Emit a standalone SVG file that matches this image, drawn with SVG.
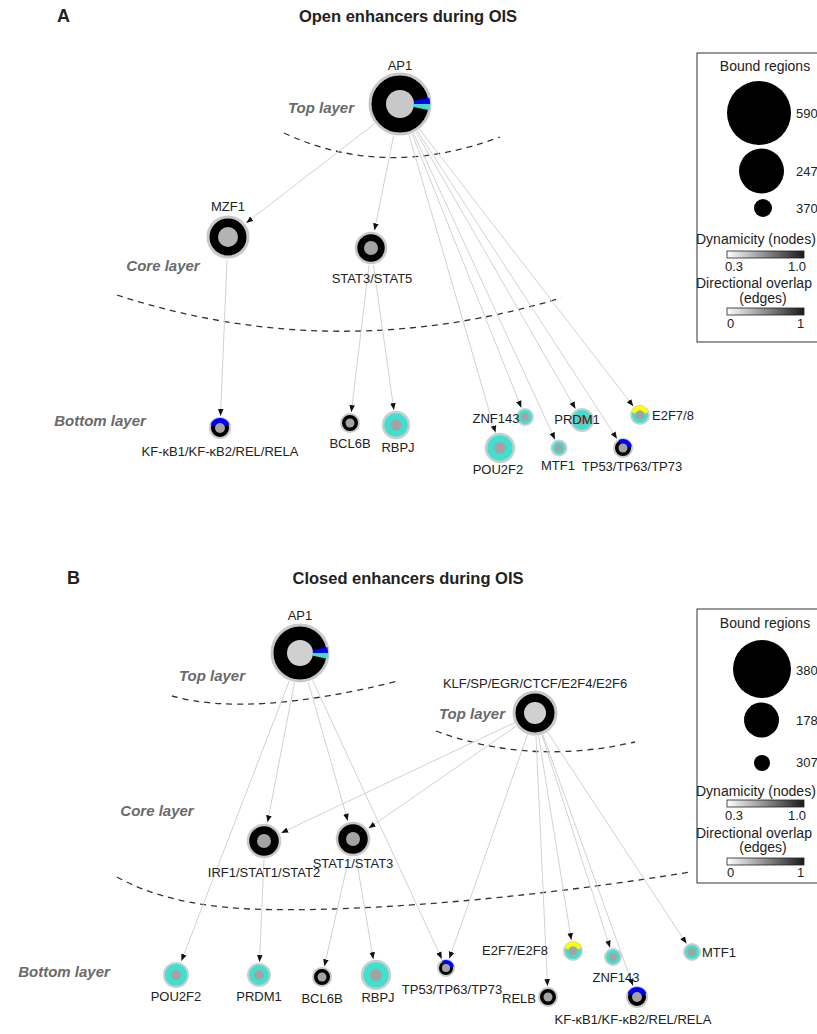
<svg xmlns="http://www.w3.org/2000/svg" width="817" height="1034" viewBox="0 0 817 1034">
<style>
text{font-family:"Liberation Sans",Arial,sans-serif;fill:#222}
.ttl{font-size:16.5px;font-weight:bold;text-anchor:middle}
.pl{font-size:18px;font-weight:bold}
.lay{font-size:15px;font-weight:bold;font-style:italic;fill:#6a6a6a;text-anchor:middle}
.lbl{font-size:13px;text-anchor:middle}
.lbs{font-size:13px}
.lbe{font-size:13px;text-anchor:end}
.leg{font-size:14px}
.legc{font-size:14px;text-anchor:middle}
.num{font-size:13px}
.edge{stroke:#d2d2d2;stroke-width:1;fill:none;marker-end:url(#arr)}
.arc{stroke:#333;stroke-width:1.3;fill:none;stroke-dasharray:6 5}
.blk{fill:#000;stroke:#c8c8c8}
.cyn{fill:#40e0d0;stroke:#cdcdcd}
.inn{fill:#a3a3a3}
.blue{stroke:#0000ff;fill:none}
.yel{stroke:#ffff00;fill:none}
</style>
<defs>
<marker id="arr" viewBox="0 0 10 10" refX="10" refY="5" markerWidth="7" markerHeight="7" markerUnits="userSpaceOnUse" orient="auto"><path d="M0,1 L10,5 L0,9 Z" fill="#111"/></marker>
<linearGradient id="grad" x1="0" y1="0" x2="1" y2="0"><stop offset="0" stop-color="#ffffff"/><stop offset="1" stop-color="#1a1a1a"/></linearGradient>
</defs>

<!-- Panel A -->
<text class="pl" x="57" y="22">A</text>
<text class="ttl" x="408" y="22">Open enhancers during OIS</text>
<text class="lay" x="321" y="113">Top layer</text>
<text class="lay" x="163" y="271">Core layer</text>
<text class="lay" x="100" y="426">Bottom layer</text>
<path class="arc" d="M284,133 Q385,180 500,137"/>
<path class="arc" d="M117,295 Q335,366 561,298"/>

<g id="edgesA">
<line class="edge" x1="374.7" y1="123.6" x2="246.2" y2="222.9"/>
<line class="edge" x1="393.7" y1="135.4" x2="374.5" y2="230.4"/>
<line class="edge" x1="411.9" y1="133.7" x2="521.3" y2="407.7"/>
<line class="edge" x1="408.9" y1="134.7" x2="495.5" y2="432.6"/>
<line class="edge" x1="413.4" y1="133" x2="555" y2="439.4"/>
<line class="edge" x1="416" y1="131.7" x2="575.5" y2="408.7"/>
<line class="edge" x1="417.4" y1="130.9" x2="617" y2="438.8"/>
<line class="edge" x1="419.6" y1="129.3" x2="633.3" y2="406.3"/>
<line class="edge" x1="227" y1="260" x2="220.5" y2="416"/>
<line class="edge" x1="369" y1="265" x2="351.3" y2="412.1"/>
<line class="edge" x1="373.4" y1="265" x2="393.9" y2="410.1"/>
</g>

<g id="nA_AP1">
<circle class="blk" cx="400" cy="104" r="30" stroke-width="3"/>
<path d="M413.69,101.09 L429.34,97.76 A30,30 0 0 1 430,104 L414,104 A14,14 0 0 0 413.69,101.09 Z" fill="#0000ff"/>
<path d="M414,104 L430,104 A30,30 0 0 1 429.34,110.24 L413.69,106.91 A14,14 0 0 0 414,104 Z" fill="#40e0d0"/>
<circle cx="400" cy="104" r="14" fill="#c8c8c8"/>
<text class="lbl" x="400" y="70">AP1</text>
</g>
<g id="nA_MZF1">
<circle class="blk" cx="228" cy="237" r="20" stroke-width="3"/>
<circle cx="228" cy="237" r="10" fill="#b3b3b3"/>
<text class="lbl" x="228" y="211">MZF1</text>
</g>
<g id="nA_STAT3">
<circle class="blk" cx="371" cy="248" r="15" stroke-width="2.5"/>
<circle cx="371" cy="248" r="7" class="inn"/>
<text class="lbl" x="372" y="283">STAT3/STAT5</text>
</g>
<g id="nA_KF">
<circle class="blk" cx="220" cy="428" r="10" stroke-width="2"/>
<path class="blue" stroke-width="5" d="M212.95,425.43 A7.5,7.5 0 0 1 227.05,425.43"/>
<circle cx="220" cy="428" r="5" class="inn"/>
<text class="lbl" x="220" y="456">KF-κB1/KF-κB2/REL/RELA</text>
</g>
<g id="nA_BCL6B">
<circle class="blk" cx="350" cy="423" r="9" stroke-width="2"/>
<circle cx="350" cy="423" r="4.5" class="inn"/>
<text class="lbl" x="350" y="448">BCL6B</text>
</g>
<g id="nA_RBPJ">
<circle class="cyn" cx="396" cy="425" r="13" stroke-width="2.5"/>
<circle cx="396" cy="425" r="5.5" class="inn"/>
<text class="lbl" x="398" y="452">RBPJ</text>
</g>
<g id="nA_ZNF143">
<circle class="cyn" cx="525" cy="417" r="8" stroke-width="2"/>
<circle cx="525" cy="417" r="4" class="inn"/>
<text class="lbl" x="496" y="423">ZNF143</text>
</g>
<g id="nA_PRDM1">
<circle class="cyn" cx="582" cy="420" r="11" stroke-width="2"/>
<circle cx="582" cy="420" r="5" class="inn"/>
<text class="lbl" x="577" y="424">PRDM1</text>
</g>
<g id="nA_E2F78">
<circle class="cyn" cx="640" cy="415" r="9" stroke-width="2"/>
<path class="yel" stroke-width="4.5" d="M633.66,412.69 A6.75,6.75 0 0 1 646.34,412.69"/>
<circle cx="640" cy="415" r="4.5" class="inn"/>
<text class="lbs" x="652" y="420">E2F7/8</text>
</g>
<g id="nA_POU2F2">
<circle class="cyn" cx="500" cy="448" r="14" stroke-width="2.5"/>
<circle cx="500" cy="448" r="6" class="inn"/>
<text class="lbl" x="498" y="474">POU2F2</text>
</g>
<g id="nA_MTF1">
<circle class="cyn" cx="559" cy="448" r="7.5" stroke-width="2"/>
<circle cx="559" cy="448" r="4" class="inn"/>
<text class="lbl" x="558" y="470">MTF1</text>
</g>
<g id="nA_TP53">
<circle class="blk" cx="623" cy="448" r="9" stroke-width="2"/>
<path class="blue" stroke-width="4.5" d="M619.6,442.2 A6.75,6.75 0 0 1 629.65,446.83"/>
<circle cx="623" cy="448" r="4.5" class="inn"/>
<text class="lbl" x="632" y="471">TP53/TP63/TP73</text>
</g>

<g id="legendA">
<rect x="697" y="53" width="140" height="289" fill="#fff" stroke="#333" stroke-width="1"/>
<text class="legc" x="765" y="71">Bound regions</text>
<circle cx="759" cy="113" r="32" fill="#000"/>
<text class="num" x="796" y="118">590</text>
<circle cx="761.5" cy="171" r="22.5" fill="#000"/>
<text class="num" x="796" y="176">247</text>
<circle cx="763" cy="208" r="9" fill="#000"/>
<text class="num" x="796" y="213">370</text>
<text class="leg" x="696" y="244">Dynamicity (nodes)</text>
<rect x="727" y="251" width="77" height="7" fill="url(#grad)" stroke="#222" stroke-width="0.8"/>
<text class="num" x="725" y="271">0.3</text>
<text class="num" x="788" y="271">1.0</text>
<text class="leg" x="696" y="288">Directional overlap</text>
<text class="legc" x="763" y="303">(edges)</text>
<rect x="727" y="308" width="77" height="7" fill="url(#grad)" stroke="#222" stroke-width="0.8"/>
<text class="num" x="727" y="328">0</text>
<text class="num" x="797" y="328">1</text>
</g>

<!-- Panel B -->
<text class="pl" x="67" y="584">B</text>
<text class="ttl" x="408" y="584">Closed enhancers during OIS</text>
<text class="lay" x="212" y="681">Top layer</text>
<text class="lay" x="472" y="719">Top layer</text>
<text class="lay" x="157" y="816">Core layer</text>
<text class="lay" x="64" y="977">Bottom layer</text>
<path class="arc" d="M172,696 Q250,718 398,681"/>
<path class="arc" d="M436,731 Q530,766 635,742"/>
<path class="arc" d="M117,877 C150,895 190,906 250,909 C350,913 520,900 690,872"/>

<g id="edgesB">
<line class="edge" x1="289.2" y1="681" x2="181.4" y2="961"/>
<line class="edge" x1="294.4" y1="682.5" x2="267.6" y2="822.3"/>
<line class="edge" x1="308.2" y1="681.9" x2="347.8" y2="820.7"/>
<line class="edge" x1="312.6" y1="680.2" x2="441.8" y2="958.9"/>
<line class="edge" x1="514.2" y1="722.8" x2="281.2" y2="832.9"/>
<line class="edge" x1="516.1" y1="726.1" x2="368.6" y2="828.2"/>
<line class="edge" x1="527.4" y1="734.7" x2="449.3" y2="958.6"/>
<line class="edge" x1="538.6" y1="735.7" x2="571.3" y2="940.1"/>
<line class="edge" x1="536" y1="736" x2="547.5" y2="986"/>
<line class="edge" x1="542" y1="735" x2="610" y2="947.5"/>
<line class="edge" x1="542.8" y1="734.6" x2="633" y2="985.7"/>
<line class="edge" x1="547.6" y1="732.2" x2="686.5" y2="943.6"/>
<line class="edge" x1="264" y1="859" x2="259.5" y2="962"/>
<line class="edge" x1="349" y1="857" x2="324.4" y2="966.3"/>
<line class="edge" x1="356" y1="857" x2="373.3" y2="959.2"/>
</g>

<g id="nB_AP1">
<circle class="blk" cx="300" cy="653" r="28" stroke-width="3"/>
<path d="M312.72,650.3 L327.39,647.18 A28,28 0 0 1 328,653 L313,653 A13,13 0 0 0 312.72,650.3 Z" fill="#0000ff"/>
<path d="M313,653 L328,653 A28,28 0 0 1 327.39,658.82 L312.72,655.7 A13,13 0 0 0 313,653 Z" fill="#40e0d0"/>
<circle cx="300" cy="653" r="13" fill="#d0d0d0"/>
<text class="lbl" x="300" y="620">AP1</text>
</g>
<g id="nB_KLF">
<circle class="blk" cx="535" cy="713" r="21" stroke-width="3"/>
<circle cx="535" cy="713" r="11" fill="#d0d0d0"/>
<text class="lbl" x="535" y="688">KLF/SP/EGR/CTCF/E2F4/E2F6</text>
</g>
<g id="nB_IRF1">
<circle class="blk" cx="264" cy="841" r="16" stroke-width="2.5"/>
<circle cx="264" cy="841" r="7" class="inn"/>
<text class="lbl" x="264" y="877">IRF1/STAT1/STAT2</text>
</g>
<g id="nB_STAT1">
<circle class="blk" cx="353" cy="839" r="16" stroke-width="2.5"/>
<circle cx="353" cy="839" r="7" class="inn"/>
<text class="lbl" x="353" y="868">STAT1/STAT3</text>
</g>
<g id="nB_POU2F2">
<circle class="cyn" cx="176" cy="975" r="12" stroke-width="2"/>
<circle cx="176" cy="975" r="5" class="inn"/>
<text class="lbl" x="176" y="1001">POU2F2</text>
</g>
<g id="nB_PRDM1">
<circle class="cyn" cx="259" cy="975" r="11" stroke-width="2"/>
<circle cx="259" cy="975" r="5" class="inn"/>
<text class="lbl" x="259" y="1001">PRDM1</text>
</g>
<g id="nB_BCL6B">
<circle class="blk" cx="322" cy="977" r="9" stroke-width="2"/>
<circle cx="322" cy="977" r="4.5" class="inn"/>
<text class="lbl" x="322" y="1003">BCL6B</text>
</g>
<g id="nB_RBPJ">
<circle class="cyn" cx="376" cy="975" r="14" stroke-width="2.5"/>
<circle cx="376" cy="975" r="6" class="inn"/>
<text class="lbl" x="378" y="1002">RBPJ</text>
</g>
<g id="nB_TP53">
<circle class="blk" cx="446" cy="968" r="8" stroke-width="2"/>
<path class="blue" stroke-width="4" d="M443,962.8 A6,6 0 0 1 451.9,967"/>
<circle cx="446" cy="968" r="4" class="inn"/>
<text class="lbl" x="452" y="994">TP53/TP63/TP73</text>
</g>
<g id="nB_E2F">
<circle class="cyn" cx="573" cy="951" r="9" stroke-width="2"/>
<path class="yel" stroke-width="4.5" d="M566.66,948.69 A6.75,6.75 0 0 1 579.34,948.69"/>
<circle cx="573" cy="951" r="4.5" class="inn"/>
<text class="lbl" x="515" y="955">E2F7/E2F8</text>
</g>
<g id="nB_RELB">
<circle class="blk" cx="548" cy="997" r="9" stroke-width="2"/>
<circle cx="548" cy="997" r="4.5" class="inn"/>
<text class="lbe" x="536" y="1003">RELB</text>
</g>
<g id="nB_ZNF143">
<circle class="cyn" cx="613" cy="957" r="8" stroke-width="2"/>
<circle cx="613" cy="957" r="4" class="inn"/>
<text class="lbl" x="616" y="982">ZNF143</text>
</g>
<g id="nB_KF">
<circle class="blk" cx="637" cy="997" r="10" stroke-width="2"/>
<path class="blue" stroke-width="5" d="M629.95,994.43 A7.5,7.5 0 0 1 644.05,994.43"/>
<circle cx="637" cy="997" r="5" class="inn"/>
<text class="lbl" x="633" y="1024">KF-κB1/KF-κB2/REL/RELA</text>
</g>
<g id="nB_MTF1">
<circle class="cyn" cx="692" cy="952" r="8" stroke-width="2"/>
<circle cx="692" cy="952" r="4" class="inn"/>
<text class="lbs" x="702" y="957">MTF1</text>
</g>

<g id="legendB">
<rect x="697" y="609" width="140" height="274" fill="#fff" stroke="#333" stroke-width="1"/>
<text class="legc" x="765" y="628">Bound regions</text>
<circle cx="762" cy="669" r="29" fill="#000"/>
<text class="num" x="796" y="675">380</text>
<circle cx="761.5" cy="720" r="17.5" fill="#000"/>
<text class="num" x="796" y="725">1784</text>
<circle cx="762" cy="763" r="8" fill="#000"/>
<text class="num" x="796" y="767">307</text>
<text class="leg" x="696" y="796">Dynamicity (nodes)</text>
<rect x="727" y="800" width="77" height="7" fill="url(#grad)" stroke="#222" stroke-width="0.8"/>
<text class="num" x="725" y="820">0.3</text>
<text class="num" x="788" y="820">1.0</text>
<text class="leg" x="696" y="838">Directional overlap</text>
<text class="legc" x="763" y="852">(edges)</text>
<rect x="727" y="858" width="77" height="7" fill="url(#grad)" stroke="#222" stroke-width="0.8"/>
<text class="num" x="727" y="877">0</text>
<text class="num" x="797" y="877">1</text>
</g>
</svg>
